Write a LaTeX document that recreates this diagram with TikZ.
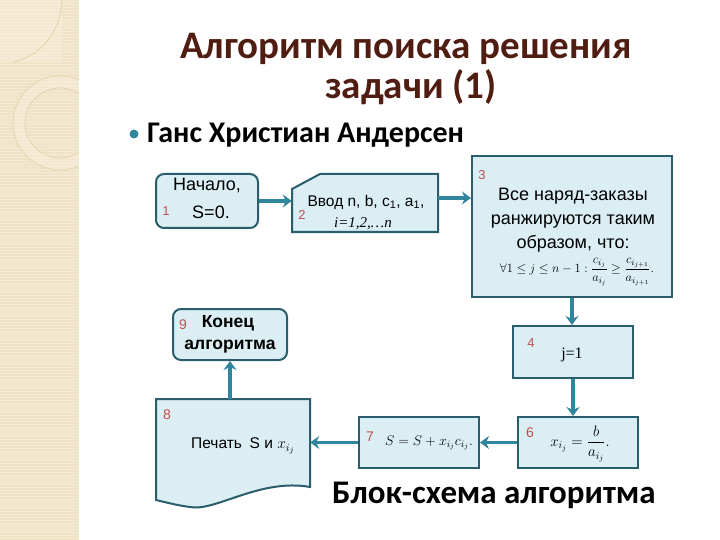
\documentclass[tikz,border=0pt]{standalone}
\usepackage{fix-cm}
\usepackage{amsmath}
\usepackage{fontspec}
\setmainfont{Liberation Sans}
\newfontfamily\carl{Carlito}
\newfontfamily\tms{Liberation Serif}
\usetikzlibrary{arrows.meta,calc}
\definecolor{boxfill}{HTML}{DAEEF3}
\definecolor{boxline}{HTML}{2B5E6C}
\definecolor{arrcol}{HTML}{31859C}
\definecolor{numred}{HTML}{C0504D}
\definecolor{titlecol}{HTML}{4F1D12}
\definecolor{stripe}{HTML}{EFE3C6}
\definecolor{stripelight}{HTML}{F6EEDB}
\definecolor{ringcol}{HTML}{E6D6AE}
\tikzset{
  box/.style={draw=boxline, fill=boxfill, line width=2pt, inner sep=0pt},
  ghost/.style={draw=none, inner sep=0pt},
  arr/.style={draw=arrcol, line width=3.5pt, -{Stealth[length=9pt,width=13pt,inset=3pt]}},
  num/.style={text=numred, font=\fontsize{13}{13}\selectfont, inner sep=0pt},
  lbl/.style={font=\fontsize{18}{24}\selectfont, align=center, inner sep=0pt},
  ttl/.style={text=titlecol, font=\carl\bfseries\fontsize{39}{39}\selectfont, inner sep=0pt, anchor=base},
}
\begin{document}
\begin{tikzpicture}[x=1pt,y=-1pt]
\useasboundingbox (0,0) rectangle (720,540);
% decorative stripe
\fill[stripe] (0,0) rectangle (79,540);
\foreach \yy in {1.5,4.5,...,540} \draw[white,opacity=0.35,line width=0.7pt] (0,\yy) -- (79,\yy);
\fill[stripelight,opacity=0.6] (0,0) rectangle (62,62);
\draw[ringcol,line width=1pt] (62,0) .. controls (60,35) and (40,55) .. (14,62);
\begin{scope}
\clip (0,0) rectangle (79,540);
\draw[stripelight,line width=11pt,opacity=0.6] (60,123) circle (41);
\draw[ringcol,line width=0.8pt] (60,123) circle (47);
\draw[ringcol,line width=0.8pt] (60,123) circle (35);
\end{scope}
% titles
\node[ttl] (t1) at (406,59) {Алгоритм поиска решения};
\node[ttl] (t2) at (411,99) {задачи (1)};
\fill[arrcol] (134,134) circle (4.5);
\node[anchor=base west, inner sep=0pt, font=\carl\bfseries\fontsize{30}{30}\selectfont] (sub) at (147,143) {Ганс Христиан Андерсен};
\node[anchor=base west, inner sep=0pt, font=\carl\bfseries\fontsize{33}{33}\selectfont] (cap) at (332,503) {Блок-схема алгоритма};
% box 1
\node[box, rounded corners=8pt, minimum width=102pt, minimum height=54pt] (b1) at (207,201) {};
\node[lbl] (b1a) at (207,185) {Начало,};
\node[lbl] (b1b) at (211,212) {S=0.};
\node[num] (n1) at (166,211) {1};
% box 2 (manual input)
\node[ghost, minimum width=146pt, minimum height=58pt] (b2) at (365,203) {};
\draw[box] (292,189) -- (320,174) -- (438,174) -- (438,232) -- (292,232) -- cycle;
\node[inner sep=0pt, font=\fontsize{15.5}{15.5}\selectfont] (b2a) at (366,202) {Ввод n, b, c\textsubscript{1}, a\textsubscript{1},};
\node[inner sep=0pt, font=\tms\itshape\fontsize{15}{15}\selectfont] (b2b) at (363,224) {i=1,2,…n};
\node[num] (n2) at (302,215) {2};
% box 3
\node[box, minimum width=200pt, minimum height=141pt] (b3) at (572,226.5) {};
\node[num] (n3) at (482,175) {3};
\node[lbl] (b3a) at (573,220) {Все наряд-заказы\\ранжируются таким\\образом, что:};
\node[inner sep=0pt, font=\fontsize{12.5}{12.5}\selectfont] (b3f) at (577,272) {$\forall 1\le j\le n-1:\dfrac{c_{i_j}}{a_{i_j}}\ge\dfrac{c_{i_{j+1}}}{a_{i_{j+1}}}.$};
% box 4
\node[box, minimum width=120pt, minimum height=52pt] (b4) at (573,352) {};
\node[num] (n4) at (531,343) {4};
\node[inner sep=0pt, font=\tms\fontsize{16}{16}\selectfont] (b4a) at (572,355) {j=1};
% box 6
\node[box, minimum width=120pt, minimum height=51pt] (b6) at (578,442.5) {};
\node[num, font=\fontsize{14}{14}\selectfont] (n6) at (530,433) {6};
\node[inner sep=0pt, font=\fontsize{15}{15}\selectfont] (b6a) at (580,444) {$x_{i_j}=\dfrac{b}{a_{i_j}}.$};
% box 7
\node[box, minimum width=120pt, minimum height=51pt] (b7) at (419,442.5) {};
\node[num, font=\fontsize{14}{14}\selectfont] (n7) at (370,437) {7};
\node[inner sep=0pt, font=\fontsize{14}{14}\selectfont] (b7a) at (429,443) {$S=S+x_{i_j}c_{i_j}.$};
% box 8 (document)
\node[ghost, minimum width=154pt, minimum height=101pt] (b8) at (233,449.5) {};
\draw[box] (156,399) -- (310,399) -- (310,487) .. controls (260,478) and (215,512) .. (190,507) .. controls (175,505) and (165,502) .. (156,500) -- cycle;
\node[num, font=\fontsize{14}{14}\selectfont] (n8) at (167,415) {8};
\node[inner sep=0pt, font=\fontsize{15.5}{15.5}\selectfont] (b8a) at (243,446) {Печать\enspace S и $x_{i_j}$};
% box 9
\node[box, rounded corners=8pt, minimum width=114pt, minimum height=51pt] (b9) at (230,334.5) {};
\node[num, font=\fontsize{14}{14}\selectfont] (n9) at (183,325) {9};
\node[inner sep=0pt, font=\bfseries\fontsize{17.5}{17.5}\selectfont] (b9a) at (228,323) {Конец};
\node[inner sep=0pt, font=\bfseries\fontsize{17.5}{17.5}\selectfont] (b9b) at (230,347) {алгоритма};
% connectors
\draw[arr] (b1.east) -- (b1.east -| b2.west);
\draw[arr] ([yshift=5pt]b2.east) -- ([yshift=5pt]b2.east -| b3.west);
\draw[arr] (b3.south) -- (b3.south |- b4.north);
\draw[arr] (b4.south) -- (b4.south |- b6.north);
\draw[arr] (b6.west) -- (b7.east);
\draw[arr] (b7.west) -- (b7.west -| b8.east);
\draw[arr] (b9.south |- b8.north) -- (b9.south);
\end{tikzpicture}
\end{document}
